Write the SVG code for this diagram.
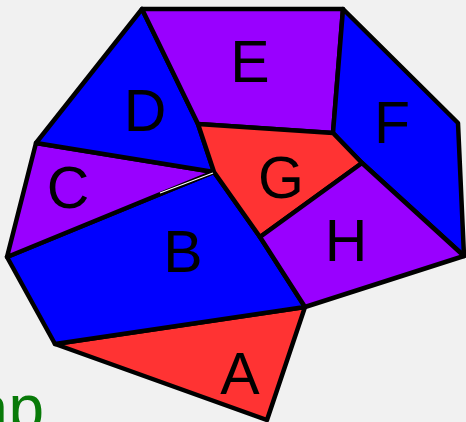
<svg xmlns="http://www.w3.org/2000/svg" width="466" height="422" viewBox="0 0 466 422">
<style>
.r{stroke:#000;stroke-width:4.5;stroke-linejoin:round}
.blue{fill:#0000ff}.purple{fill:#9900ff}.red{fill:#ff3333}
.lbl{font-family:"Liberation Sans",Arial,sans-serif;font-size:59px;fill:#000;text-anchor:middle}
</style>
<rect width="466" height="422" fill="#f1f1f1"/>
<g id="A"><polygon class="r red" points="55,344 305,307 267,420"/><text class="lbl" x="240" y="394">A</text></g>
<g id="B"><polygon class="r blue" points="7,257 214,172 260,237 305,307 55,344"/><text class="lbl" x="183" y="272" font-size="56">B</text></g>
<g id="C"><polygon class="r purple" points="36,143 214,172 7,257"/><text class="lbl" x="68" y="208">C</text></g>
<g id="D"><polygon class="r blue" points="142,9 198,124 214,172 36,143"/><text class="lbl" x="145" y="131">D</text></g>
<g id="E"><polygon class="r purple" points="142,9 343,9 333,133 198,124"/><text class="lbl" x="250" y="82" font-size="63">E</text></g>
<g id="F"><polygon class="r blue" points="343,9 458,123 464,256 362,163 333,133"/><text class="lbl" x="392" y="143">F</text></g>
<g id="G"><polygon class="r red" points="198,124 333,133 362,163 260,237 214,172"/><text class="lbl" x="281" y="198">G</text></g>
<g id="H"><polygon class="r purple" points="260,237 362,163 464,256 305,307"/><text class="lbl" x="346" y="261">H</text></g>
<path d="M160,193 L213,173" stroke="#fff" stroke-width="1.2" fill="none"/>
<text x="-27" y="430" font-family="Liberation Sans,Arial,sans-serif" font-size="64" fill="#087a08">ap</text>
</svg>
